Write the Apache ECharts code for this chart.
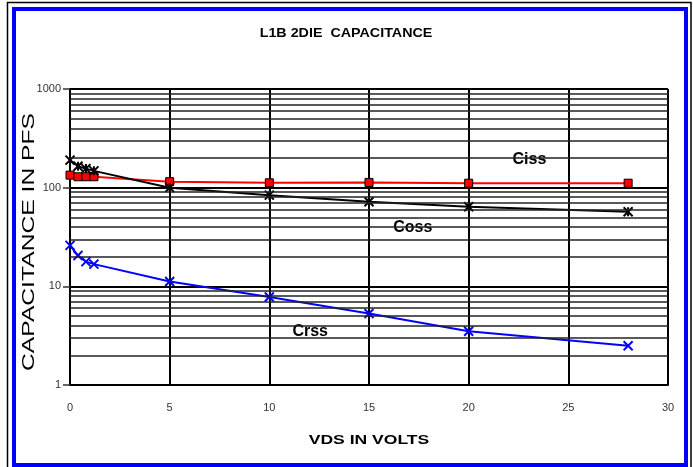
<!DOCTYPE html>
<html>
<head>
<meta charset="utf-8">
<style>
  html, body { margin: 0; padding: 0; background: #fff; }
  #chart { width: 693px; height: 467px; }
</style>
<script src="https://cdn.jsdelivr.net/npm/echarts@6/dist/echarts.min.js"></script>
</head>
<body>
<div id="chart"></div>
<script>
// VDS (volts) and capacitances (pF)
const vds = [0, 0.4, 0.8, 1.2, 5, 10, 15, 20, 28];
const ciss = [134, 129, 129, 129, 115, 112, 113, 111, 111];
const coss = [190, 165, 156, 148, 100, 84, 72, 64, 57];
const crss = [26, 20.5, 17.8, 16.8, 11.2, 7.8, 5.3, 3.5, 2.5];

// log-grid lines between the decades
const minorGrid = [2, 3, 4, 5, 6, 7, 8, 9, 20, 30, 40, 50, 60, 70, 80, 90, 200, 300, 400, 500, 600, 700, 800, 900];

// in-plot series names: [x, y, text]
const seriesNotes = [[23.05, 191, 'Ciss'], [17.2, 39, 'Coss'], [12.05, 3.5, 'Crss']];

const pairs = (ys) => vds.map((x, i) => [x, ys[i]]);
const FONT = '"Liberation Sans", Arial, sans-serif';

const chart = echarts.init(document.getElementById('chart'), null, { renderer: 'canvas' });

chart.setOption({
  animation: false,
  backgroundColor: '#fff',
  grid: { left: 70, right: 25, top: 89, bottom: 82 },
  xAxis: {
    type: 'value', min: 0, max: 30, interval: 5,
    axisLine: { show: true, onZero: false, lineStyle: { color: '#000', width: 2 } },
    axisTick: { show: false },
    axisLabel: { color: '#333', fontFamily: FONT, fontSize: 11, margin: 17 },
    splitLine: { show: true, lineStyle: { color: '#000', width: 2 } }
  },
  yAxis: {
    type: 'log', logBase: 10, min: 1, max: 1000,
    axisLine: { show: true, lineStyle: { color: '#000', width: 2 } },
    axisTick: { show: true, length: 7, lineStyle: { color: '#333', width: 1.5 } },
    axisLabel: { color: '#333', fontFamily: FONT, fontSize: 11, margin: 9, formatter: (v) => String(Math.round(v)) },
    splitLine: { show: true, lineStyle: { color: '#000', width: 2 } }
  },
  graphic: [
    { type: 'rect', z: 100, silent: true, shape: { x: 7.5, y: 2.5, width: 683.5, height: 470 }, style: { fill: 'none', stroke: '#000', lineWidth: 1.5 } },
    { type: 'rect', z: 100, silent: true, shape: { x: 14, y: 9, width: 672, height: 456 }, style: { fill: 'none', stroke: '#0000ff', lineWidth: 4 } },
    { type: 'text', x: 346, y: 33, scaleX: 1.1, style: { text: 'L1B 2DIE  CAPACITANCE', fill: '#000', font: 'bold 13px ' + FONT, align: 'center', verticalAlign: 'middle' } },
    { type: 'text', x: 369, y: 440, scaleX: 1.35, style: { text: 'VDS IN VOLTS', fill: '#000', font: 'bold 13px ' + FONT, align: 'center', verticalAlign: 'middle' } },
    { type: 'text', x: 29, y: 242, rotation: Math.PI / 2, scaleX: 1.45, style: { text: 'CAPACITANCE IN PFS', fill: '#000', font: '17px ' + FONT, align: 'center', verticalAlign: 'middle' } }
  ],
  series: [
    {
      name: 'grid', type: 'line', data: [], z: 1, silent: true,
      markLine: {
        silent: true, symbol: 'none', label: { show: false },
        lineStyle: { color: '#222', width: 1.6, type: 'solid' },
        data: minorGrid.map((v) => ({ yAxis: v }))
      }
    },
    {
      name: 'Ciss', type: 'line', z: 3, data: pairs(ciss),
      symbol: 'rect', symbolSize: 8,
      lineStyle: { color: '#ff0000', width: 2 },
      itemStyle: { color: '#ff0000', borderColor: '#000', borderWidth: 1 }
    },
    {
      name: 'Coss', type: 'line', z: 3, data: pairs(coss),
      symbol: 'path://M0,0 L10,10 M10,0 L0,10 M5,0 L5,10', symbolSize: 9,
      lineStyle: { color: '#000', width: 2 },
      itemStyle: { color: '#000', borderColor: '#000', borderWidth: 2 }
    },
    {
      name: 'Crss', type: 'line', z: 3, data: pairs(crss),
      symbol: 'path://M0,0 L10,10 M10,0 L0,10', symbolSize: 9,
      lineStyle: { color: '#0000ff', width: 2 },
      itemStyle: { color: '#0000ff', borderColor: '#0000ff', borderWidth: 2 }
    },
    {
      name: 'notes', type: 'scatter', z: 4, silent: true,
      symbol: 'circle', symbolSize: 1,
      itemStyle: { color: 'rgba(0,0,0,0)' },
      label: {
        show: true, position: 'inside', formatter: (p) => p.value[2],
        color: '#000', opacity: 1, textBorderWidth: 0, textBorderColor: 'transparent',
        fontFamily: FONT, fontWeight: 'bold', fontSize: 16
      },
      data: seriesNotes
    }
  ]
});

window.addEventListener('resize', () => chart.resize());
</script>
</body>
</html>
